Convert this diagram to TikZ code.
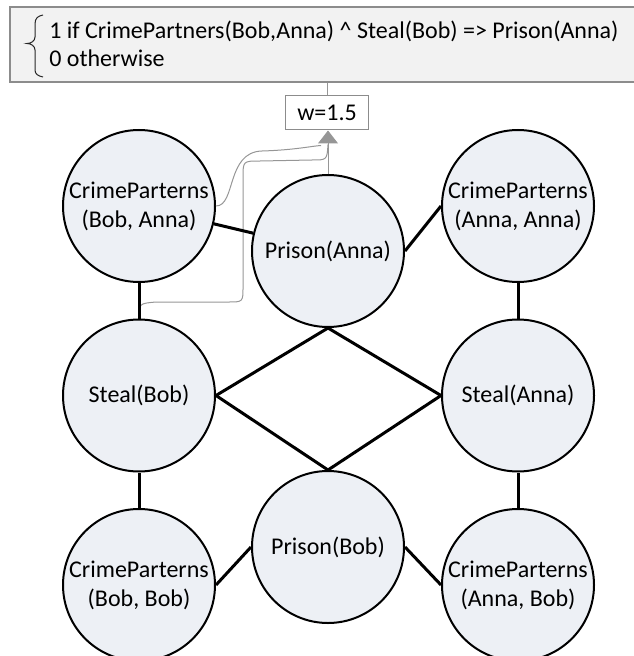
\documentclass[tikz,border=0pt]{standalone}
\usepackage{fontspec}
\setmainfont{Carlito}
\usetikzlibrary{arrows.meta,calc}
\definecolor{nodefill}{RGB}{237,240,245}
\definecolor{boxfill}{RGB}{242,242,242}
\definecolor{boxline}{RGB}{140,140,140}
\definecolor{flowgray}{RGB}{150,150,150}
\begin{document}
\begin{tikzpicture}[x=0.75pt,y=-0.75pt,
  every node/.style={font=\fontsize{18pt}{21.75pt}\selectfont},
  atom/.style={circle,draw=black,line width=1.5pt,fill=nodefill,minimum size=114pt,inner sep=0pt,align=center},
  link/.style={line width=2.25pt,black},
  flow/.style={draw=flowgray,line width=0.75pt},
  formulabox/.style={draw=boxline,fill=boxfill,line width=1pt,minimum width=472.5pt,minimum height=56.25pt,inner sep=0pt},
  weightbox/.style={draw=boxline,fill=white,line width=0.75pt,minimum width=62.25pt,minimum height=25.5pt,inner sep=0pt},
  plain/.style={inner sep=0pt,anchor=base west},
  bracepath/.style={draw=black!85,line width=0.75pt}
]
\useasboundingbox (0,0) rectangle (633,656);

% formula box with its two cases
\node[formulabox] (formula) at (325,44.5) {};
\node[plain] (case1) at (49,39) {1 if CrimePartners(Bob,Anna) \textasciicircum{} Steal(Bob) => Prison(Anna)};
\node[plain] (case2) at (49,67) {0 otherwise};
\draw[bracepath] (43,15) .. controls (38,16) and (35,18) .. (35,24) -- (35,37)
  .. controls (35,41) and (31,43.5) .. (27,43.5)
  .. controls (31,43.5) and (35,46) .. (35,50) -- (35,70)
  .. controls (35,74) and (38,76) .. (43,77);

% weight box
\node[weightbox] (wbox) at (327,113) {w=1.5};

% ground atoms
\node[atom] (CPba) at (139,206) {CrimeParterns\\(Bob, Anna)};
\node[atom] (PA)   at (328,251) {Prison(Anna)};
\node[atom] (CPaa) at (518,206) {CrimeParterns\\(Anna, Anna)};
\node[atom] (SB)   at (139,395.5) {Steal(Bob)};
\node[atom] (SA)   at (518,395.5) {Steal(Anna)};
\node[atom] (PB)   at (328,547) {Prison(Bob)};
\node[atom] (CPbb) at (139,585) {CrimeParterns\\(Bob, Bob)};
\node[atom] (CPab) at (518,585) {CrimeParterns\\(Anna, Bob)};

% formula to weight
\draw[flow] (formula.south -| wbox.north) -- (wbox.north);

% atoms feeding the weight
\coordinate (join) at ($(PA.north |- wbox.south)+(0,14)$);
\coordinate (joinL) at ($(join)+(-7,1)$);
\draw[flow,-{Triangle[length=9.75pt,width=15pt]}] (PA.north) -- (PA.north |- wbox.south);
\draw[flow] (CPba.east) .. controls +(20,0) and (226,152) .. (262,151)
  .. controls (295,150) and (312,146) .. (joinL);
\draw[flow] (SB.north) .. controls +(0,-15) .. (156,302) -- (228,302)
  .. controls (243,302) .. (243,287) -- (243,178)
  .. controls (243,161) .. (260,161) -- (312,160)
  .. controls (327,160) .. (join);

% Markov network edges
\draw[link] (CPba) -- (PA);
\draw[link] (PA.east) -- (CPaa.west);
\draw[link] (CPba.south) -- (SB.north);
\draw[link] (CPaa.south) -- (SA.north);
\draw[link] (PA.south) -- (SB.east);
\draw[link] (PA.south) -- (SA.west);
\draw[link] (PB.north) -- (SB.east);
\draw[link] (PB.north) -- (SA.west);
\draw[link] (SB.south) -- (CPbb.north);
\draw[link] (SA.south) -- (CPab.north);
\draw[link] (PB.west) -- (CPbb.east);
\draw[link] (PB.east) -- (CPab.west);
\end{tikzpicture}
\end{document}
